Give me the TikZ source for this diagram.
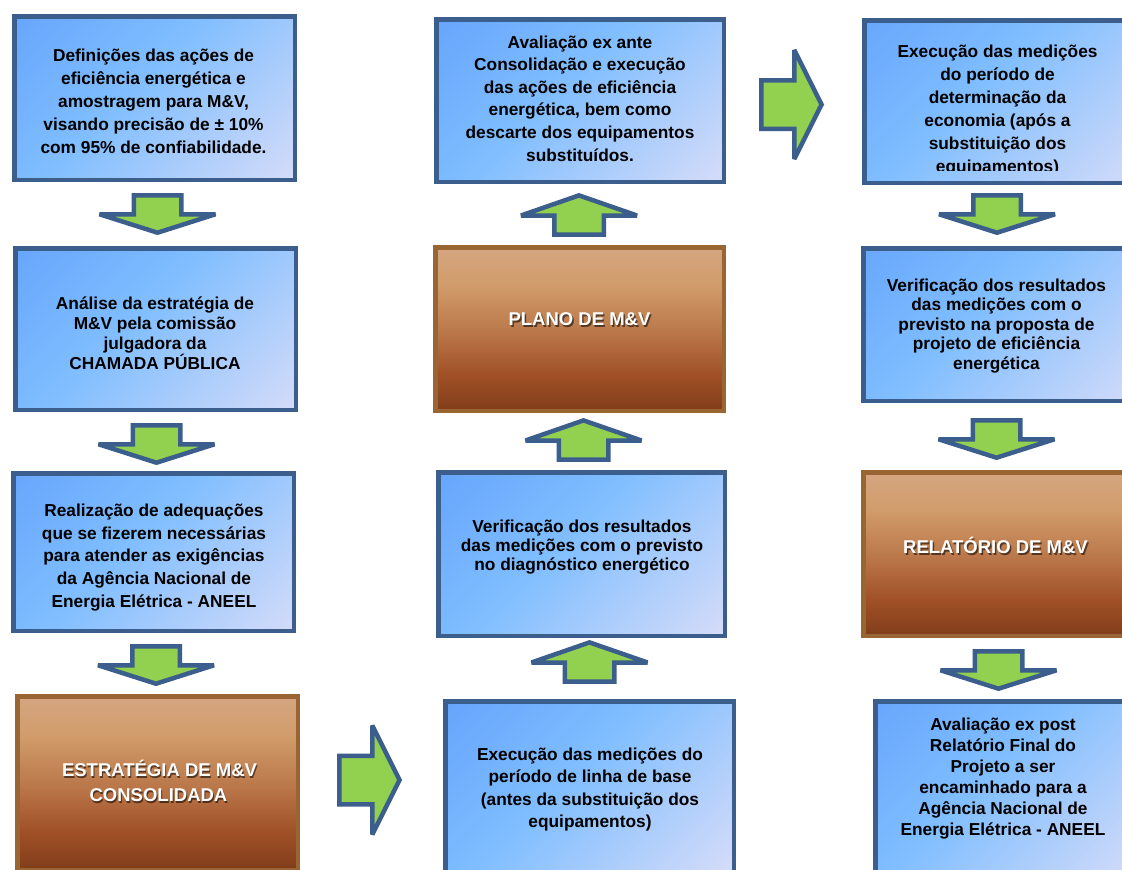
\documentclass[tikz,border=0pt]{standalone}
\usepackage{fontspec}
\setmainfont{Liberation Sans}
\usetikzlibrary{calc}
\definecolor{edgeblue}{RGB}{59,94,140}
\definecolor{arrgreen}{RGB}{146,208,80}
\definecolor{edgebrown}{RGB}{153,102,51}
\definecolor{bgA}{RGB}{88,152,250}
\definecolor{bgB}{RGB}{128,190,255}
\definecolor{bgC}{RGB}{248,232,246}
\definecolor{brA}{RGB}{100,48,20}
\definecolor{brB}{RGB}{122,58,24}
\definecolor{brC}{RGB}{160,80,38}
\definecolor{brD}{RGB}{188,122,76}
\definecolor{brE}{RGB}{210,157,108}
\definecolor{brF}{RGB}{214,174,150}
\pgfdeclarehorizontalshading{bluegrad}{100bp}{color(0bp)=(bgA); color(25bp)=(bgA); color(47.5bp)=(bgB); color(75bp)=(bgC); color(100bp)=(bgC)}
\pgfdeclareverticalshading{browngrad}{100bp}{color(0bp)=(brA); color(14.6bp)=(brA); color(23.1bp)=(brB); color(35.8bp)=(brC); color(50bp)=(brD); color(64.2bp)=(brE); color(85.4bp)=(brF); color(100bp)=(brF)}
\tikzset{
  bluebox/.style={draw=edgeblue, line width=4.5pt, inner sep=0pt, outer sep=0pt,
    path picture={\shade[shading=bluegrad, shading angle=-45]
      ($(path picture bounding box.center)+(-233,-233)$) rectangle ++(466,466);}},
  brownbox/.style={draw=edgebrown, line width=4.5pt, inner sep=0pt, outer sep=0pt, shading=browngrad},
  arrowsty/.style={draw=edgeblue, fill=arrgreen, line width=4.5pt, line join=miter, miter limit=2},
  bodytext/.style={font=\bfseries\fontsize{17.3}{#1}\selectfont, align=center, inner sep=0pt, text=black},
  titletext/.style={font=\bfseries\fontsize{18.5}{25}\selectfont, inner sep=0pt, text=white, anchor=base},
  shadowtext/.style={titletext, text=black, opacity=0.55},
  downarr/.pic={\path[arrowsty] (-23.75,-2.25) -- (23.75,-2.25) -- (23.75,-21.25) -- (58,-21.25)
      -- (0,-39.7) -- (-58,-21.25) -- (-23.75,-21.25) -- cycle;},
  uparr/.pic={\path[arrowsty] (0,-2.4) -- (58,-22.5) -- (24.75,-22.5) -- (24.75,-41.5)
      -- (-24.75,-41.5) -- (-24.75,-22.5) -- (-58,-22.5) -- cycle;},
  rightarr/.pic={\path[arrowsty] (2.25,24.25) -- (35.25,24.25) -- (35.25,54.5) -- (62.6,0)
      -- (35.25,-54.5) -- (35.25,-24.25) -- (2.25,-24.25) -- cycle;}
}
% style, name, x1, y1, x2, y2 (image pixel coordinates, y downward)
\newcommand\mvbox[6]{%
  \node[#1, minimum width={#5-#3-4.5}, minimum height={#6-#4-4.5}] (#2)
    at ({(#3+#5)/2},{-(#4+#6)/2}) {};}
\begin{document}
\begin{tikzpicture}[x=1pt,y=1pt]
\useasboundingbox (0,0) rectangle (1122,-870);
\fill[white] (0,0) rectangle (1122,-870);
\clip (0,0) rectangle (1122,-870);

% ---------- column 1 ----------
\mvbox{bluebox}{A}{12}{14}{297}{182}
\mvbox{bluebox}{B}{13}{246}{298}{412}
\mvbox{bluebox}{C}{11}{471}{296}{633}
\mvbox{brownbox}{D}{15}{694}{300}{872}

% ---------- column 2 ----------
\mvbox{bluebox}{E}{434}{17}{726}{184}
\mvbox{brownbox}{F}{433}{245}{726}{413}
\mvbox{bluebox}{G}{436}{470}{727}{638}
\mvbox{bluebox}{H}{443}{699}{736}{882}

% ---------- column 3 ----------
\mvbox{bluebox}{I}{862}{18}{1134}{185}
\mvbox{bluebox}{J}{861}{246}{1134}{403}
\mvbox{brownbox}{K}{861}{470}{1131}{638}
\mvbox{bluebox}{L}{873}{699}{1134}{882}

% ---------- block arrows ----------
\pic at (157.5,-193) {downarr};
\pic at (156.5,-423) {downarr};
\pic at (156,-644) {downarr};
\pic at (579,-193) {uparr};
\pic at (583.5,-418) {uparr};
\pic at (589.5,-640) {uparr};
\pic at (997,-193) {downarr};
\pic at (996.5,-418) {downarr};
\pic at (998.5,-649) {downarr};
\pic at (337,-780) {rightarr};
\pic at (759,-104.5) {rightarr};

% ---------- texts ----------
\node[bodytext=23] (tA) at (153.5,-101) {Definições das ações de\\eficiência energética e\\amostragem para M\&V,\\visando precisão de ± 10\%\\com 95\% de confiabilidade.};
\node[bodytext=20] (tB) at (155,-333) {Análise da estratégia de\\M\&V pela comissão\\julgadora da\\CHAMADA PÚBLICA};
\node[bodytext=22.7] (tC) at (154,-557.5) {Realização de adequações\\que se fizerem necessárias\\para atender as exigências\\da Agência Nacional de\\Energia Elétrica - ANEEL};

\node[shadowtext] (sD1) at (160.5,-778.1) {ESTRATÉGIA DE M\&V};
\node[titletext] (tD1) at (159.5,-776.6) {ESTRATÉGIA DE M\&V};
\node[shadowtext] (sD2) at (159.5,-803.1) {CONSOLIDADA};
\node[titletext] (tD2) at (158.5,-801.6) {CONSOLIDADA};

\node[bodytext=22.6] (tE) at (580,-98.5) {Avaliação ex ante\\Consolidação e execução\\das ações de eficiência\\energética, bem como\\descarte dos equipamentos\\substituídos.};

\node[shadowtext] (sF) at (581,-327.1) {PLANO DE M\&V};
\node[titletext] (tF) at (579.5,-325.6) {PLANO DE M\&V};

\node[bodytext=19] (tG) at (582,-547) {Verificação dos resultados\\das medições com o previsto\\no diagnóstico energético};
\node[bodytext=22.5] (tH) at (590,-789.5) {Execução das medições do\\período de linha de base\\(antes da substituição dos\\equipamentos)};

\begin{scope}
  \clip (862,-18) rectangle (1134,-170.5);
  \node[bodytext=23] (tI) at (997.5,-111) {Execução das medições\\do período de\\determinação da\\economia (após a\\substituição dos\\equipamentos)};
\end{scope}
\node[bodytext=19.5] (tJ) at (996.5,-326) {Verificação dos resultados\\das medições com o\\previsto na proposta de\\projeto de eficiência\\energética};

\node[shadowtext] (sK) at (997,-555.1) {RELATÓRIO DE M\&V};
\node[titletext] (tK) at (995.5,-553.6) {RELATÓRIO DE M\&V};

\node[bodytext=21] (tL) at (1003,-779) {Avaliação ex post\\Relatório Final do\\Projeto a ser\\encaminhado para a\\Agência Nacional de\\Energia Elétrica - ANEEL};
\end{tikzpicture}
\end{document}
